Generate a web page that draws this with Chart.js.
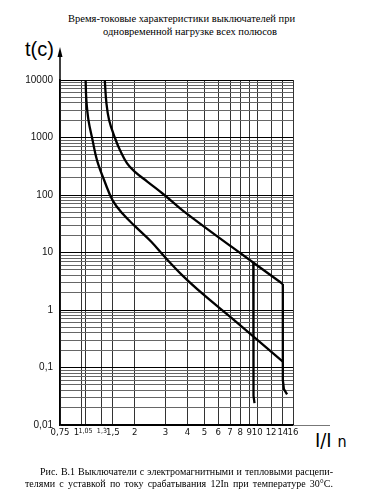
<!DOCTYPE html>
<html>
<head>
<meta charset="utf-8">
<script src="https://cdn.jsdelivr.net/npm/chart.js@4.4.1/dist/chart.umd.min.js"></script>
<style>
  body { margin: 0; background: #fff; width: 365px; height: 504px; position: relative; overflow: hidden; }
  #c { position: absolute; left: 0; top: 0; }
  .txt { position: absolute; white-space: nowrap; color: #000; }
  .serif { font-family: 'Liberation Serif', 'Times New Roman', serif; font-size: 10.5px; line-height: 12px; }
  .sans { font-family: 'Liberation Sans', Arial, sans-serif; }
  .narrow { font-family: 'Liberation Sans Narrow', 'DejaVu Sans Condensed', 'Liberation Sans', Arial, sans-serif; }
  .just { text-align: justify; text-align-last: justify; }
</style>
</head>
<body>
<div class="txt serif" style="left:68px;top:13px;">Время-токовые характеристики выключателей при</div>
<div class="txt serif" style="left:103px;top:26px;">одновременной нагрузке всех полюсов</div>
<div class="txt sans" style="left:25px;top:39px;font-size:20px;line-height:20px;">t(c)</div>
<div class="txt narrow" style="left:315px;top:430px;font-size:20px;line-height:20px;">I/I <span style="font-size:16px">n</span></div>
<canvas id="c" width="365" height="504"></canvas>
<div class="txt serif just" style="left:40px;top:466px;width:293px;font-size:10px;">Рис. В.1 Выключатели с электромагнитными и тепловыми расцепи-</div>
<div class="txt serif just" style="left:25px;top:478px;width:308px;font-size:10px;">телями с уставкой по току срабатывания 12In при температуре 30°С.</div>
<script>
const xTickVals = [0.75, 1, 1.05, 1.3, 1.5, 2, 3, 4, 5, 6, 7, 8, 9, 10, 12, 14, 16];
const xTickLabels = ['0,75', '1    ', '1,05', '1,3', '1,5', '2', '3', '4', '5', '6', '7', '8', '9', '10', '12', '14', '16'];
const xSmall = ['1,05', '1,3'];
const yTickVals = [0.01, 0.1, 1, 10, 100, 1000, 10000];
const yTickLabels = ['0,01', '0,1', '1', '10', '100', '1000', '10000'];

// нижняя кривая
const lowX = [1.05, 1.06, 1.09, 1.15, 1.22, 1.35, 1.5, 1.71, 2.0, 2.48, 2.93, 3.78, 4.89, 7.16, 14];
const lowT = [10000, 4500, 2000, 900, 400, 170, 80, 47, 29, 15.5, 8.75, 3.88, 1.9, 0.72, 0.127];
// верхняя кривая
const highX = [1.35, 1.38, 1.43, 1.54, 1.65, 1.81, 2.0, 2.36, 2.93, 3.78, 7.16, 14];
const highT = [10000, 3960, 2000, 1000, 600, 354, 256, 171, 102, 53, 12.5, 2.83];
// спад верхней кривой при 14 In
const dropX = [14, 14, 14.2, 14.8];
const dropT = [2.83, 0.06, 0.042, 0.034];
// отсечка
const tripX = [9.5, 9.5, 9.55, 9.65];
const tripT = [6.67, 0.05, 0.032, 0.024];

function pts(xs, ts) {
  return xs.map((x, i) => ({ x: x, y: ts[i] }));
}

// сетка по y: 1..9 в каждой декаде
const yGrid = [];
for (let d = 0; d < yTickVals.length; d++) {
  for (let m = 1; m <= 9; m++) {
    if (d == yTickVals.length - 1 && m > 1) break;
    yGrid.push(m * yTickVals[d]);
  }
}

function isMajor(v) {
  return yTickVals.some(t => Math.abs(v - t) / t < 1e-6);
}

const axisArrows = {
  id: 'axisArrows',
  afterDraw(chart) {
    const ctx = chart.ctx;
    const a = chart.chartArea;
    ctx.save();
    ctx.strokeStyle = '#000';
    ctx.fillStyle = '#000';
    ctx.lineWidth = 1.5;
    ctx.beginPath();
    ctx.moveTo(a.left, a.top);
    ctx.lineTo(a.left, 54);
    ctx.stroke();
    ctx.beginPath();
    ctx.moveTo(a.left, 47);
    ctx.lineTo(a.left - 2.5, 57);
    ctx.lineTo(a.left + 2.5, 57);
    ctx.closePath();
    ctx.fill();
    ctx.strokeStyle = '#777';
    ctx.lineWidth = 1;
    ctx.beginPath();
    ctx.moveTo(a.right, a.bottom + 0.5);
    ctx.lineTo(330, a.bottom + 0.5);
    ctx.stroke();
    ctx.restore();
  }
};

const curve = { borderColor: '#000', borderWidth: 2.3, pointRadius: 0, fill: false, tension: 0.4 };
const straight = { borderColor: '#000', borderWidth: 2.3, pointRadius: 0, fill: false, tension: 0 };

new Chart(document.getElementById('c'), {
  type: 'line',
  data: {
    datasets: [
      Object.assign({ data: pts(lowX, lowT) }, curve),
      Object.assign({ data: pts(highX, highT) }, curve),
      Object.assign({ data: pts(dropX, dropT) }, straight),
      Object.assign({ data: pts(tripX, tripT) }, straight)
    ]
  },
  options: {
    responsive: false,
    animation: false,
    devicePixelRatio: 1,
    layout: { padding: { top: 80, right: 72, bottom: 55, left: 0 } },
    plugins: { legend: { display: false }, tooltip: { enabled: false } },
    scales: {
      x: {
        type: 'logarithmic',
        min: 0.75,
        max: 16,
        afterBuildTicks: s => { s.ticks = xTickVals.map(v => ({ value: v })); },
        afterFit: s => { s.height = 24; },
        grid: { color: '#333', lineWidth: 1, drawTicks: false },
        border: { color: '#000', width: 1.5 },
        ticks: {
          autoSkip: false,
          maxRotation: 0,
          padding: 2,
          color: '#111',
          callback: (v, i) => xTickLabels[i],
          font: ctx => ({
            family: "'Liberation Sans Narrow', 'DejaVu Sans Condensed', 'Liberation Sans', Arial, sans-serif",
            size: xSmall.includes(xTickLabels[ctx.index]) ? 7 : 9.5
          })
        }
      },
      y: {
        type: 'logarithmic',
        min: 0.01,
        max: 10000,
        afterBuildTicks: s => { s.ticks = yGrid.map(v => ({ value: v })); },
        afterFit: s => { s.width = 60; },
        grid: {
          color: ctx => (ctx.tick && isMajor(ctx.tick.value)) ? '#000' : '#666',
          lineWidth: 1,
          drawTicks: false
        },
        border: { color: '#000', width: 1.5 },
        ticks: {
          autoSkip: false,
          padding: 7,
          color: '#111',
          font: { family: "'Liberation Sans', Arial, sans-serif", size: 10 },
          callback: v => {
            const k = yTickVals.findIndex(t => Math.abs(v - t) / t < 1e-6);
            return k >= 0 ? yTickLabels[k] : '';
          }
        }
      }
    }
  },
  plugins: [axisArrows]
});
</script>
</body>
</html>
